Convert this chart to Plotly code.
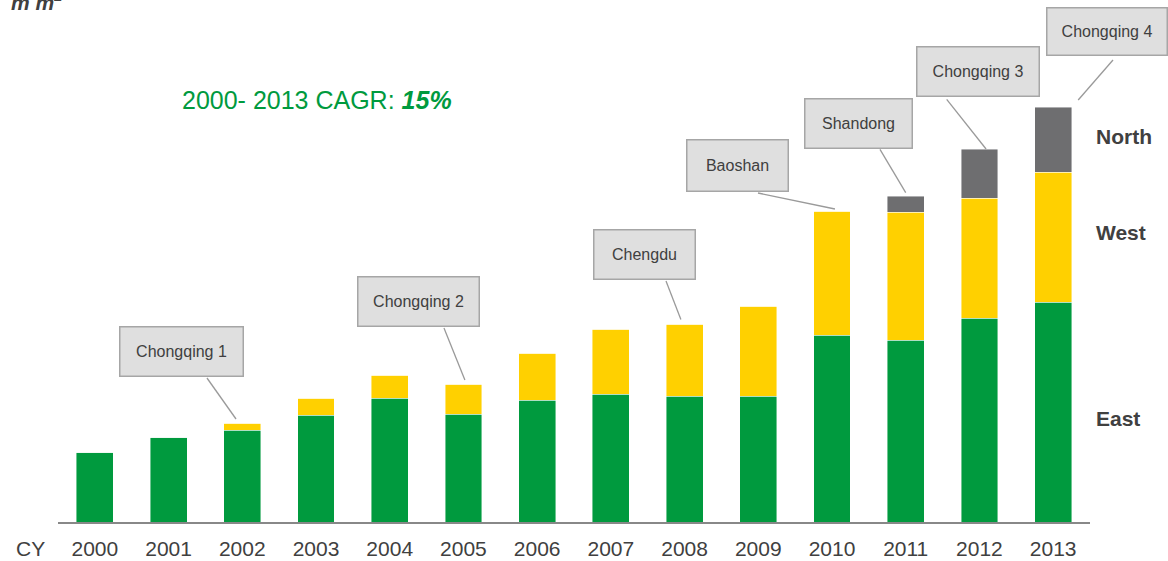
import plotly.graph_objects as go

# Floor space by region, m m² (calendar years)
years = ["2000", "2001", "2002", "2003", "2004", "2005", "2006",
         "2007", "2008", "2009", "2010", "2011", "2012", "2013"]
east = [7.0, 8.5, 9.2, 10.7, 12.4, 10.8, 12.2, 12.8, 12.6, 12.6, 18.7, 18.2, 20.4, 22.0]
west = [0.0, 0.0, 0.7, 1.7, 2.3, 3.0, 4.7, 6.5, 7.2, 9.0, 12.4, 12.8, 12.0, 13.0]
north = [0.0, 0.0, 0.0, 0.0, 0.0, 0.0, 0.0, 0.0, 0.0, 0.0, 0.0, 1.6, 4.9, 6.5]

# New sites opened: (year, site name)
sites = [("2002", "Chongqing 1"), ("2005", "Chongqing 2"), ("2008", "Chengdu"),
         ("2010", "Baoshan"), ("2011", "Shandong"), ("2012", "Chongqing 3"),
         ("2013", "Chongqing 4")]

GREEN = "#009a3e"
YELLOW = "#ffd000"
GREY = "#6e6e70"
TEXT = "#404040"
FONT = "Liberation Sans, Arial, sans-serif"

X_RANGE = [-0.5, len(years) - 0.5]
Y_RANGE = [0, 50]


def px_(i):
    """Category position -> paper fraction (same mapping as the x axis)."""
    return (i - X_RANGE[0]) / (X_RANGE[1] - X_RANGE[0])


def py_(v):
    """Value -> paper fraction (same mapping as the y axis)."""
    return (v - Y_RANGE[0]) / (Y_RANGE[1] - Y_RANGE[0])


totals = [e + w + n for e, w, n in zip(east, west, north)]

fig = go.Figure()
for name, vals, col in [("East", east, GREEN), ("West", west, YELLOW), ("North", north, GREY)]:
    fig.add_trace(go.Bar(
        x=years, y=vals, name=name, marker_color=col,
        marker_line=dict(color="rgba(255,255,255,0.55)", width=0.8),
        hoverinfo="x+y+name",
    ))

# Callout boxes: centre (category position, value), box size (px), and the
# point where the leader line leaves the box and how it meets the bar top
callout_layout = {
    "Chongqing 1": dict(cx=1.173, cy=17.0, w=122, h=48, sx=1.521, sy=14.4, dx=-0.085, gap=0.4),
    "Chongqing 2": dict(cx=4.391, cy=22.05, w=120, h=48, sx=4.736, sy=19.4, dx=0.02, gap=0.4),
    "Chengdu":     dict(cx=7.463, cy=26.7, w=100, h=48, sx=7.748, sy=24.1, dx=-0.05, gap=0.45),
    "Baoshan":     dict(cx=8.718, cy=35.6, w=100, h=50, sx=8.996, sy=32.9, dx=0.04, gap=0.2),
    "Shandong":    dict(cx=10.353, cy=39.88, w=106, h=48, sx=10.651, sy=37.27, dx=0.0, gap=0.33),
    "Chongqing 3": dict(cx=11.976, cy=45.05, w=121, h=48, sx=11.556, sy=42.27, dx=0.09, gap=0.0),
    "Chongqing 4": dict(cx=13.731, cy=49.05, w=119, h=46, sx=13.812, sy=46.2, dx=0.34, gap=0.7),
}

annotations = []
shapes = []
for yr, label in sites:
    i = years.index(yr)
    c = callout_layout[label]
    shapes.append(dict(
        type="line", xref="paper", yref="paper",
        x0=px_(c["sx"]), y0=py_(c["sy"]),
        x1=px_(i + c["dx"]), y1=py_(totals[i] + c["gap"]),
        line=dict(color="#9a9a9a", width=1.3), layer="above",
    ))
    annotations.append(dict(
        x=px_(c["cx"]), y=py_(c["cy"]), xref="paper", yref="paper",
        text=label, showarrow=False, xanchor="center", yanchor="middle",
        width=c["w"], height=c["h"], borderpad=0,
        bgcolor="#dfdfdf", bordercolor="#a6a6a6", borderwidth=1.5,
        font=dict(family=FONT, size=16, color=TEXT),
    ))

# Region labels beside the last bar
for txt, yv in [("North", 38.6), ("West", 29.0), ("East", 10.4)]:
    annotations.append(dict(
        x=1.004, y=py_(yv), xref="paper", yref="paper", text=f"<b>{txt}</b>",
        showarrow=False, xanchor="left", yanchor="middle",
        font=dict(family=FONT, size=21, color=TEXT),
    ))

annotations += [
    dict(x=0.1182, y=0.844, xref="paper", yref="paper",
         text="2000- 2013 CAGR: <b><i>15%</i></b>", showarrow=False,
         xanchor="left", yanchor="middle",
         font=dict(family=FONT, size=25, color=GREEN)),
    dict(x=-0.0107, y=-0.052, xref="paper", yref="paper", text="CY",
         showarrow=False, xanchor="right", yanchor="middle",
         font=dict(family=FONT, size=21, color=TEXT)),
    dict(x=-0.047, y=1.012, xref="paper", yref="paper", text="<b><i>m m<sup>2</sup></i></b>",
         showarrow=False, xanchor="left", yanchor="bottom",
         font=dict(family=FONT, size=21, color=TEXT)),
]

fig.update_layout(
    barmode="stack", bargap=0.5,
    width=1168, height=561,
    margin=dict(l=58, r=78, t=22, b=39, autoexpand=False),
    paper_bgcolor="white", plot_bgcolor="white",
    showlegend=False,
    font=dict(family=FONT, color=TEXT),
    annotations=annotations, shapes=shapes,
    xaxis=dict(
        type="category", range=X_RANGE, automargin=False,
        showline=True, linecolor="#888888", linewidth=2,
        ticks="outside", ticklen=7, tickcolor="rgba(0,0,0,0)",
        tickfont=dict(family=FONT, size=21, color=TEXT),
        showgrid=False, zeroline=False, fixedrange=True,
    ),
    yaxis=dict(visible=False, range=Y_RANGE, fixedrange=True, automargin=False),
)

fig.write_html("out.html", config={"displayModeBar": False})
